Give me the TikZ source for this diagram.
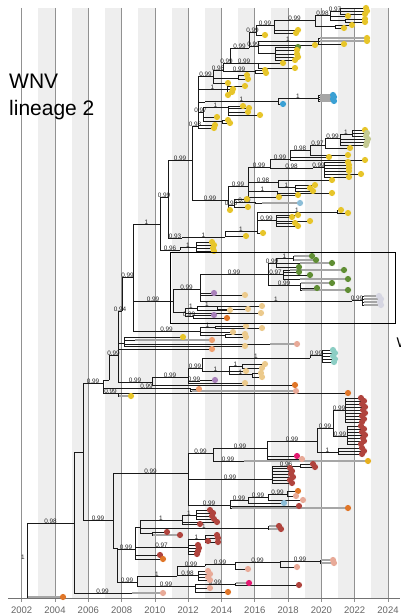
\documentclass[tikz,border=0pt]{standalone}
\usepackage{fontspec}
\setmainfont{Liberation Sans}
\pgfdeclarelayer{fg}
\pgfsetlayers{main,fg}
\definecolor{cYel}{RGB}{231,197,42}
\definecolor{cBlu}{RGB}{58,160,212}
\definecolor{cGrn}{RGB}{96,142,52}
\definecolor{cKha}{RGB}{196,202,146}
\definecolor{cLav}{RGB}{214,214,226}
\definecolor{cPur}{RGB}{168,128,186}
\definecolor{cBei}{RGB}{236,202,140}
\definecolor{cSal}{RGB}{240,160,112}
\definecolor{cPnk}{RGB}{232,170,152}
\definecolor{cOrg}{RGB}{224,118,40}
\definecolor{cTea}{RGB}{140,206,196}
\definecolor{cRed}{RGB}{176,68,62}
\definecolor{cMag}{RGB}{226,26,112}
\definecolor{cGld}{RGB}{230,176,32}
\definecolor{cLbl}{RGB}{140,190,216}
\definecolor{cBand}{RGB}{238,238,238}
\definecolor{cGrid}{RGB}{145,145,145}
\newcounter{tipc}
\newcommand\nd[5]{\coordinate (#1) at (#3,#4);
  \draw[br] (#2) |- (#1) node[lbl,pos=0.75] {#5};}
\newcommand\tp[4]{\stepcounter{tipc}\edef\tn{tip\arabic{tipc}}%
  \coordinate (\tn) at (#2,#3);
  \draw[br] (#1) |- (\tn);
  \begin{pgfonlayer}{fg}\fill[#4] (\tn) circle (3.1pt);\end{pgfonlayer}}
\newcommand\tb[5]{\stepcounter{tipc}\edef\tn{tip\arabic{tipc}}\edef\tnb{bar\arabic{tipc}}%
  \coordinate (\tn) at (#3,#4); \coordinate (\tnb) at (#2,#4);
  \draw[br] (#1) |- (\tnb);
  \draw[barl] (\tnb) -- (\tn);
  \begin{pgfonlayer}{fg}\fill[#5] (\tn) circle (3.1pt);\end{pgfonlayer}}
\begin{document}
\begin{tikzpicture}[x=1pt,y=-1pt,
  br/.style={draw=black!90, line width=0.75pt},
  barl/.style={draw=black!90, line width=0.45pt, double=black!35, double distance=1.2pt},
  lab/.style={font=\fontsize{6.4}{6.4}\selectfont, inner sep=0pt, text=black!85},
  lbl/.style={lab, anchor=south, yshift=-1.2pt},
  gridl/.style={draw=cGrid, line width=0.75pt},
  yrl/.style={font=\fontsize{9.5}{10}\selectfont, text=black!60, inner sep=0pt},
  ttl/.style={font=\fontsize{21}{21}\selectfont, anchor=base west, inner sep=0pt}]
\useasboundingbox (0,0) rectangle (400,615);
\fill[white] (0,0) rectangle (400,615);
% background bands and grid
\foreach \k in {0,...,10} {\fill[cBand] ({38.35+33.3*\k},8) rectangle ({55+33.3*\k},598);}
\foreach \k/\yr in {0/2002,1/2004,2/2006,3/2008,4/2010,5/2012,6/2014,7/2016,8/2018,9/2020,10/2022,11/2024} {
  \draw[gridl] ({21.7+33.3*\k},8) -- ({21.7+33.3*\k},602);
  \node[yrl] (y\yr) at ({21.7+33.3*\k},610) {\yr};
}
\draw[draw=black!55, line width=0.8pt] (8,598) -- (400,598);
% title
\node[ttl] (t1) at (9,89) {WNV};
\node[ttl] (t2) at (9,115) {lineage 2};
% ---------- tree ----------
\coordinate (R) at (27,560);
\node[lab] (Rl) at (23,557) {1};
\tb{R}{28}{63}{597}{cOrg}
\nd{A}{R}{74}{523}{0.98}
\nd{C}{A}{131}{593}{0.99}
\tb{C}{132}{163}{593}{cPnk}
\nd{B}{A}{83}{452}{}
\nd{D}{B}{103}{383}{0.99}
\nd{E}{B}{113}{520}{0.99}
% ===== E clade =====
\nd{E1}{E}{188}{473}{0.99}
\nd{E2}{E}{117}{548}{}
\nd{E3}{E2}{135}{549}{0.99}
\nd{E4}{E2}{137}{582}{0.99}
\nd{E3a}{E3}{140}{527}{}
\nd{E3a1}{E3a}{182}{520}{1}
\nd{E3a1a}{E3a1}{196}{515}{1}
\tp{E3a1a}{210}{510}{cRed}
\tp{E3a1a}{213}{513}{cRed}
\tp{E3a1a}{212}{516}{cRed}
\tp{E3a1a}{214}{519}{cRed}
\tp{E3a1}{200}{524}{cRed}
\tp{E3a1}{217}{522}{cRed}
\nd{E3a1b}{E3a}{268}{528}{1}
\tb{E3a1b}{269}{279}{526}{cRed}
\tb{E3a1b}{269}{281}{529}{cRed}
\nd{E3a2}{E3a}{152}{533}{}
\tp{E3a2}{167}{532}{cRed}
\tb{E3a2}{153}{180}{535}{cRed}
\nd{E3b}{E3}{188}{547}{0.97}
\tp{E3b}{198}{545}{cRed}
\tp{E3b}{199}{548}{cRed}
\tp{E3b}{198}{551}{cRed}
\tp{E3b}{197}{554}{cRed}
\nd{E3c}{E3b}{205}{539}{1}
\tp{E3c}{217}{535}{cRed}
\tp{E3c}{218}{538}{cRed}
\tp{E3c}{208}{541}{cRed}
\tp{E3c}{218}{542}{cRed}
\tp{E3}{160}{555}{cRed}
\tp{E3}{163}{559}{cOrg}
\nd{E4a}{E4}{177}{576}{1}
\nd{E4b}{E4}{195}{586}{0.99}
\nd{E4a1}{E4a}{205}{566}{0.99}
\nd{E4a1a}{E4a1}{235}{564}{0.99}
\nd{E4a1b}{E4a1a}{280}{562}{0.99}
\nd{E4a1c}{E4a1b}{320}{561}{0.99}
\tb{E4a1c}{321}{333}{560}{cPnk}
\tb{E4a1c}{321}{334}{563}{cPnk}
\tp{E4a1b}{297}{567}{cPnk}
\tp{E4a1a}{248}{569}{cPnk}
\nd{E4a2}{E4a}{198}{575}{0.98}
\tp{E4a2}{208}{571}{cPnk}
\tp{E4a2}{210}{574}{cPnk}
\tp{E4a2}{208}{577}{cPnk}
\tp{E4a2}{210}{580}{cPnk}
\nd{E4b1}{E4b}{235}{584}{0.99}
\tb{E4b1}{236}{249}{583}{cMag}
\tp{E4b1}{299}{585}{cRed}
\tp{E4b}{210}{588}{cPnk}
\tp{E4b}{228}{592}{cOrg}
\nd{E1a}{E1}{213}{453}{0.99}
\nd{E1a1}{E1a}{267}{448}{0.99}
\nd{E1a1a}{E1a1}{317}{441}{0.99}
\nd{R1}{E1a1a}{333}{428}{0.99}
\nd{R2}{R1}{345}{410}{0.99}
\foreach \yy/\xx in {398/361,401/364,404/362,407/365,410/363,413/365,416/362,419/364,422/362} {\tp{R2}{\xx}{\yy}{cRed}}
\nd{R3}{R1}{347}{436}{0.99}
\foreach \yy/\xx in {426/361,429/364,432/362,435/365,438/363,441/364,444/361} {\tp{R3}{\xx}{\yy}{cRed}}
\nd{R4}{E1a1a}{338}{452}{1}
\foreach \yy/\xx in {448/362,451/364,454/362} {\tp{R4}{\xx}{\yy}{cRed}}
\tp{E1a1}{297}{456}{cMag}
\tp{E1a1}{302}{459}{cPnk}
\nd{E1a2}{E1a}{243}{461}{0.99}
\tb{E1a2}{244}{368}{461}{cGld}
\nd{E1c}{E1}{272}{479}{0.99}
\foreach \yy/\xx in {468/290,471/292,474/291,477/293,480/290,483/292} {\tp{E1c}{\xx}{\yy}{cRed}}
\nd{E1c1}{E1c}{300}{466}{0.96}
\tp{E1c1}{313}{464}{cRed}
\tp{E1c1}{315}{467}{cRed}
\nd{E1b}{E1}{230}{505}{0.99}
\nd{E1b1}{E1b}{248}{500}{0.99}
\nd{E1b2}{E1b1}{268}{497}{0.99}
\nd{E1b3}{E1b2}{287}{494}{0.99}
\tp{E1b3}{298}{491}{cOrg}
\tp{E1b3}{296}{496}{cPnk}
\tp{E1b2}{303}{500}{cPnk}
\tp{E1b1}{284}{503}{cLbl}
\tp{E1b}{299}{506}{cRed}
\tb{E1b}{232}{348}{508}{cOrg}
% ===== D clade =====
\nd{X}{D}{109}{380}{}
\nd{F}{X}{118}{355}{0.99}
\nd{G2}{D}{190}{388}{0.99}
\tp{G2}{199}{389}{cSal}
\tb{G2}{192}{296}{391}{cPnk}
\nd{G}{D}{118}{393}{0.99}
\tb{G}{119}{131}{396}{cYel}
\tp{G}{348}{393}{cOrg}
\nd{F1}{F}{122}{311}{0.94}
\nd{F2}{F}{152}{382}{0.99}
\tp{F2}{295}{385}{cOrg}
\nd{F2a}{F2}{188}{377}{0.99}
\nd{F2b}{F2a}{202}{368}{0.99}
\nd{TE}{F2b}{310}{358}{1}
\nd{TE1}{TE}{322}{355}{0.99}
\foreach \yy/\xx in {350/333,353/335,356/333,359/335,362/334} {\tp{TE1}{\xx}{\yy}{cTea}}
\nd{BE}{F2b}{229}{371}{1}
\nd{BE1}{BE}{242}{366}{1}
\tp{BE1}{265}{364}{cBei}
\tp{BE1}{262}{368}{cBei}
\nd{BE2}{BE}{252}{374}{1}
\tp{BE2}{261}{373}{cBei}
\tp{BE2}{262}{377}{cBei}
\tp{BE}{246}{371}{cBei}
\nd{F2c}{F2a}{200}{381}{0.99}
\tp{F2c}{215}{380}{cPur}
\tp{F2a}{245}{383}{cBei}
\nd{F1b}{F}{124}{343}{}
\tp{F1b}{183}{337}{cYel}
\tb{F1b}{135}{212}{340}{cSal}
\tb{F1b}{270}{297}{344}{cPnk}
\tp{F1b}{245}{346}{cBei}
\tp{F}{212}{349}{cSal}
\nd{H0}{F1}{133}{277}{0.99}
\nd{H}{H0}{160}{224}{1}
\nd{K1}{H0}{173}{301}{0.99}
\nd{K2}{H0}{200}{331}{0.99}
\nd{K2a}{K2}{215}{327}{1}
\tp{K2a}{246}{326}{cBei}
\tp{K2a}{262}{328}{cBei}
\tp{K2}{233}{332}{cBei}
\nd{K2b}{K2}{225}{335}{}
\tp{K2b}{245}{334}{cBei}
\tp{K2b}{246}{337}{cBei}
\nd{P}{K1}{200}{289}{0.99}
\nd{Q}{K1}{185}{312}{}
\nd{GR}{P}{268}{274}{0.99}
\tp{P}{214}{293}{cPur}
\tp{P}{245}{295}{cBei}
\nd{LV}{P}{352}{301}{1}
\nd{LV1}{LV}{362}{300}{0.99}
\foreach \yy/\xx in {296/379,299/381,302/380,305/381} {\tb{LV1}{364}{\xx}{\yy}{cLav}}
\nd{Q1}{Q}{197}{308}{1}
\nd{Q2}{Q1}{217}{306}{1}
\tp{Q2}{262}{306}{cBei}
\tp{Q2}{248}{309}{cBei}
\tp{Q1}{230}{310}{cBei}
\nd{Q3}{Q}{193}{316}{0.99}
\tp{Q3}{214}{315}{cPur}
\tp{Q3}{227}{318}{cOrg}
\tp{Q}{261}{313}{cBei}
\nd{GA}{GR}{276}{263}{0.99}
\nd{GA1}{GA}{293}{258}{1}
\tb{GA1}{294}{312}{256}{cGrn}
\tb{GA1}{294}{316}{260}{cGrn}
\tb{GA}{300}{332}{263}{cGrn}
\tp{GA}{299}{267}{cGrn}
\nd{GB}{GR}{283}{274}{0.97}
\tp{GB}{299}{272}{cGrn}
\tp{GB}{310}{275}{cGrn}
\tb{GB}{290}{344}{270}{cGrn}
\tb{GB}{300}{348}{279}{cGrn}
\nd{GC}{GR}{300}{285}{0.99}
\tb{GC}{301}{332}{283}{cGrn}
\tp{GC}{317}{288}{cGrn}
\tb{GC}{302}{348}{290}{cGrn}
\nd{H1}{H}{168}{197}{0.99}
\nd{H3}{H}{180}{250}{0.96}
\nd{H3a}{H3}{196}{247}{1}
\foreach \yy/\xx in {242/212,245/214,248/213,251/214} {\tp{H3a}{\xx}{\yy}{cYel}}
\nd{H1a}{H1}{192}{160}{0.99}
\nd{H2}{H1}{182}{238}{0.93}
\nd{H2a}{H2}{225}{237}{1}
\nd{H2b}{H2a}{257}{231}{1}
\nd{H2c}{H2b}{276}{220}{0.99}
\foreach \yy/\xx in {215/298,217/292,221/310,223/295,226/298} {\tp{H2c}{\xx}{\yy}{cYel}}
\nd{H2d}{H2b}{337}{212}{1}
\tp{H2d}{341}{210}{cYel}
\tp{H2d}{348}{213}{cYel}
\tp{H2b}{263}{233}{cYel}
\tp{H2a}{246}{236}{cYel}
\nd{TT}{H1a}{198}{126}{0.98}
\nd{M}{H1a}{228}{200}{0.99}
\nd{N}{M}{248}{186}{0.99}
\nd{M2}{M}{234}{205}{0.98}
\nd{M3}{M2}{255}{202}{0.99}
\tb{M3}{262}{300}{203}{cLbl}
\tp{M2}{247}{199}{cYel}
\tp{M2}{248}{207}{cYel}
\tp{M}{230}{210}{cYel}
\nd{N1}{N}{270}{167}{0.99}
\nd{N7}{N}{278}{182}{0.98}
\nd{N8}{N}{277}{191}{1}
\tp{N}{279}{197}{cYel}
\nd{N2}{N1}{290}{159}{0.99}
\nd{N6}{N1}{313}{168}{0.98}
\nd{N3}{N2}{310}{150}{0.98}
\tp{N2}{329}{157}{cYel}
\tp{N2}{365}{160}{cYel}
\nd{N4}{N3}{325}{145}{0.97}
\tp{N3}{348}{155}{cYel}
\nd{N5}{N4}{340}{138}{0.99}
\tp{N4}{350}{148}{cYel}
\nd{N5a}{N5}{352}{134}{1}
\tp{N5a}{365}{130}{cYel}
\tp{N5a}{367}{133}{cKha}
\tp{N5a}{366}{136}{cKha}
\tp{N5}{368}{139}{cKha}
\tp{N5}{367}{142}{cKha}
\tp{N5}{366}{145}{cKha}
\nd{N6a}{N6}{324}{167}{0.99}
\foreach \yy/\xx in {162/348,165/349,168/349,171/349,174/361,177/349} {\tp{N6a}{\xx}{\yy}{cYel}}
\tp{N7}{332}{180}{cYel}
\nd{N7a}{N7}{295}{187}{1}
\tp{N7a}{315}{185}{cYel}
\tp{N7a}{310}{188}{cYel}
\tp{N7a}{313}{191}{cYel}
\tp{N8}{332}{193}{cYel}
\tp{N8}{298}{195}{cYel}
\nd{T1}{TT}{213}{76}{0.99}
\nd{T11}{TT}{227}{89}{1}
\nd{T12}{TT}{205}{102}{}
\nd{T13}{TT}{203}{112}{0.97}
\tp{TT}{215}{125}{cYel}
\tp{TT}{214}{128}{cYel}
\foreach \yy/\xx in {86/245,89/233,92/232,95/228} {\tp{T11}{\xx}{\yy}{cYel}}
\nd{BL}{T12}{278}{101}{1}
\nd{BL1}{BL}{318}{98}{1}
\foreach \yy/\xx in {95/333,97/334,99/333,101/334} {\tb{BL1}{320}{\xx}{\yy}{cBlu}}
\tp{BL}{283}{104}{cBlu}
\nd{T14}{T13}{228}{107}{1}
\foreach \yy/\xx in {106/243,108/249,112/248,115/260} {\tp{T14}{\xx}{\yy}{cYel}}
\tp{T13}{217}{117}{cYel}
\nd{T13b}{T13}{222}{121}{}
\tp{T13b}{228}{120}{cYel}
\tp{T13b}{230}{123}{cYel}
\nd{T2}{T1}{223}{70}{0.98}
\nd{T10}{T1}{238}{78}{}
\tp{T10}{247}{75}{cYel}
\tp{T10}{248}{79}{cYel}
\tp{T1}{228}{83}{cYel}
\nd{T3}{T2}{230}{63}{0.99}
\nd{T9a}{T2}{255}{71}{0.99}
\tp{T9a}{265}{70}{cYel}
\tp{T9a}{266}{73}{cYel}
\nd{T3a}{T3}{249}{48}{0.99}
\nd{T9}{T3}{258}{63}{0.99}
\tp{T9}{283}{63}{cYel}
\tp{T9}{295}{68}{cYel}
\nd{T4}{T3a}{256}{32}{0.99}
\nd{T7}{T3a}{258}{46}{0.99}
\nd{T5}{T4}{274}{25}{0.99}
\tp{T4}{265}{35}{cYel}
\nd{T6}{T5}{315}{20}{0.99}
\tp{T5}{298}{30}{cYel}
\tp{T5}{296}{33}{cYel}
\nd{T6a}{T6}{330}{15}{0.98}
\nd{T6b}{T6a}{340}{11}{0.97}
\tp{T6b}{366}{8}{cYel}
\tp{T6b}{367}{11}{cYel}
\tp{T6b}{365}{14}{cYel}
\tp{T6a}{348}{16}{cYel}
\nd{T6c}{T6a}{345}{20}{}
\tp{T6c}{365}{19}{cYel}
\tp{T6c}{365}{22}{cYel}
\nd{T6d}{T6}{335}{26}{}
\tp{T6d}{352}{25}{cYel}
\tp{T6d}{344}{28}{cYel}
\nd{T8}{T7}{318}{41}{1}
\tb{T8}{320}{367}{38}{cYel}
\tb{T8}{320}{367}{41}{cYel}
\tp{T8}{344}{44}{cYel}
\tp{T7}{315}{45}{cYel}
\nd{T7b}{T7}{275}{53}{}
\tp{T7b}{298}{47}{cGrn}
\tp{T7b}{297}{50}{cYel}
\tp{T7b}{297}{54}{cYel}
\tp{T7b}{298}{57}{cYel}
\tp{T7b}{295}{60}{cYel}
% highlight box and cut-off label
\begin{pgfonlayer}{fg}
\draw[black, line width=1pt] (170,252) rectangle (395,323);
\begin{scope}
\clip (0,0) rectangle (400,615);
\node[font=\fontsize{14}{14}\selectfont, anchor=base west, inner sep=0pt] (wcut) at (396.5,347) {W};
\end{scope}
\end{pgfonlayer}
\end{tikzpicture}
\end{document}
